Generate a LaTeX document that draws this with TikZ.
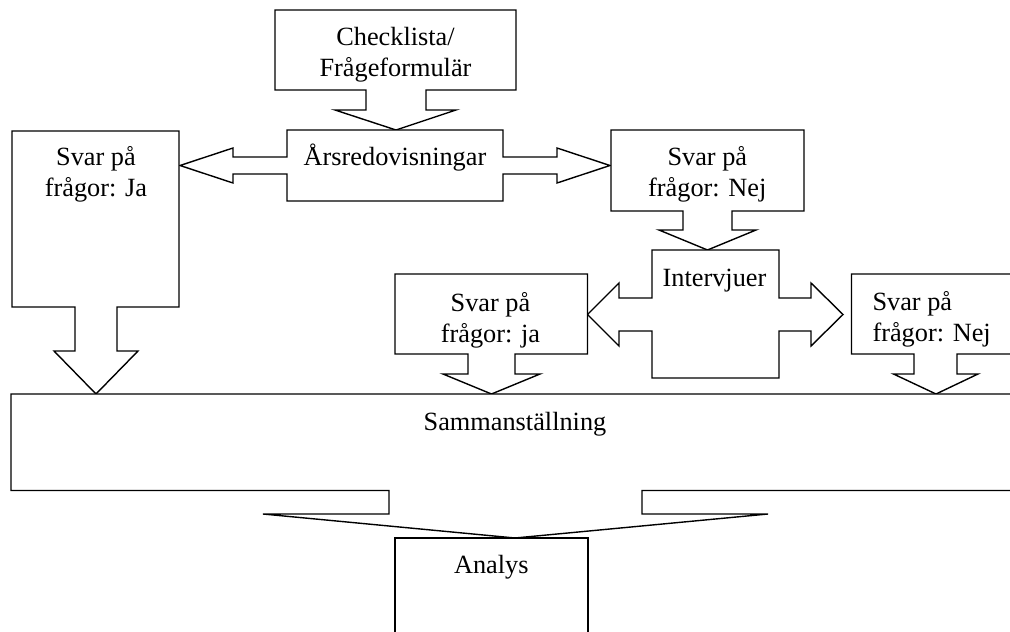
\documentclass[tikz,border=0pt]{standalone}
\usepackage{fontspec}
\setmainfont{Liberation Serif}
\begin{document}
\begin{tikzpicture}[x=1pt,y=-1pt,
  callout/.style={draw=black, line width=1.4pt, line join=miter, fill=white},
  lbl/.style={anchor=base, inner sep=0pt, font=\fontsize{26.3}{31}\selectfont}]
\clip (0,0) rectangle (1010,632);
\fill[white] (0,0) rectangle (1010,632);
% Checklista callout (down arrow)
\draw[callout] (275,10) -- (516,10) -- (516,90) -- (426,90) -- (426,110) -- (456,110)
  -- (396,130) -- (335,110) -- (366,110) -- (366,90) -- (275,90) -- cycle;
% Arsredovisningar (left-right arrow callout)
\draw[callout] (287,130) -- (503,130) -- (503,157) -- (557,157) -- (557,148) -- (610,165.5)
  -- (557,183) -- (557,174) -- (503,174) -- (503,201) -- (287,201) -- (287,174) -- (233,174)
  -- (233,183) -- (180,165.5) -- (233,148) -- (233,157) -- (287,157) -- cycle;
% Svar Ja (left)
\draw[callout] (12,131) -- (179,131) -- (179,307) -- (117,307) -- (117,351) -- (138,351)
  -- (96,394) -- (54,351) -- (75,351) -- (75,307) -- (12,307) -- cycle;
% Svar Nej (upper right)
\draw[callout] (611,130) -- (804,130) -- (804,211) -- (732,211) -- (732,230) -- (756,230)
  -- (707.5,250) -- (659,230) -- (683,230) -- (683,211) -- (611,211) -- cycle;
% Intervjuer (left-right arrow callout)
\draw[callout] (652,250) -- (779,250) -- (779,298) -- (811,298) -- (811,283) -- (843,314.5)
  -- (811,346) -- (811,331) -- (779,331) -- (779,378) -- (652,378) -- (652,331) -- (619,331)
  -- (619,346) -- (587.5,314.5) -- (619,283) -- (619,298) -- (652,298) -- cycle;
% Svar ja (middle)
\draw[callout] (395,274) -- (587.5,274) -- (587.5,354) -- (515,354) -- (515,374) -- (540,374)
  -- (491.5,394) -- (443,374) -- (468,374) -- (468,354) -- (395,354) -- cycle;
% Svar Nej (right)
\draw[callout] (851.5,274) -- (1020,274) -- (1020,354) -- (957,354) -- (957,374) -- (978,374)
  -- (936,394) -- (893.5,374) -- (914,374) -- (914,354) -- (851.5,354) -- cycle;
% Sammanstallning
\draw[callout] (11,394) -- (1020,394) -- (1020,490.5) -- (642,490.5) -- (642,514) -- (768,514)
  -- (515,538) -- (263,514) -- (389,514) -- (389,490.5) -- (11,490.5) -- cycle;
% Analys
\draw[callout] (395,538) -- (588,538) -- (588,660) -- (395,660) -- cycle;
% Texts
\node[lbl] (check) at (395.5,45) {\begin{tabular}[t]{@{}c@{}}Checklista/\\Frågeformulär\end{tabular}};
\node[lbl] (ars) at (395,165.7) {Årsredovisningar};
\node[lbl] (ja1) at (96,165.7) {\begin{tabular}[t]{@{}c@{}}Svar på\\frågor: Ja\end{tabular}};
\node[lbl] (nej1) at (707.3,165.5) {\begin{tabular}[t]{@{}c@{}}Svar på\\frågor: Nej\end{tabular}};
\node[lbl] (int) at (714.5,286) {Intervjuer};
\node[lbl] (ja2) at (490.5,311) {\begin{tabular}[t]{@{}c@{}}Svar på\\frågor: ja\end{tabular}};
\node[lbl, anchor=base west] (nej2) at (872.3,310.5) {\begin{tabular}[t]{@{}l@{}}Svar på\\frågor: Nej\end{tabular}};
\node[lbl] (samm) at (515,430.5) {Sammanställning};
\node[lbl] (analys) at (491.3,573.3) {Analys};
\end{tikzpicture}
\end{document}
